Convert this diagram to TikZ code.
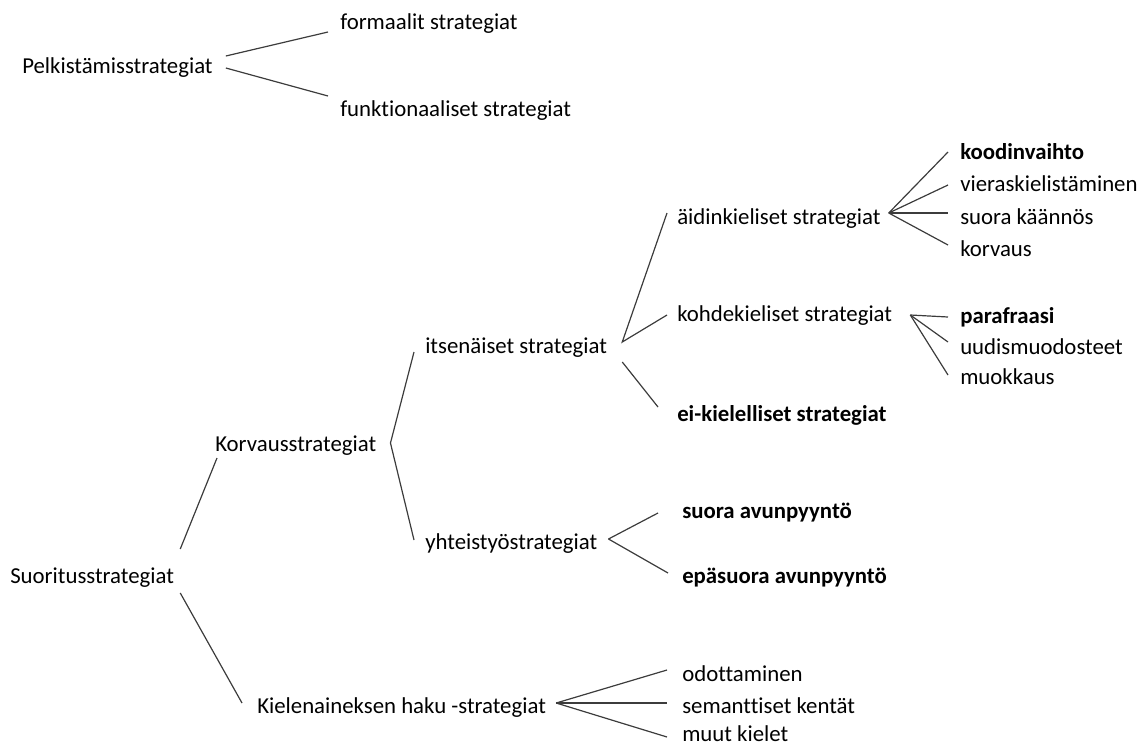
\documentclass[tikz,border=0pt]{standalone}
\usepackage{fontspec}
\setmainfont{Carlito}[Ligatures={NoCommon}]
\usepackage{xcolor}
\usetikzlibrary{calc}

\tikzset{
  txt/.style={anchor=west, inner sep=0pt, text height=13.7pt, text depth=3.4pt, font=\fontsize{17.1pt}{20pt}\selectfont},
  txtb/.style={txt, font=\fontsize{17.1pt}{20pt}\selectfont\bfseries},
  ln/.style={draw={rgb, 255:red, 60; green, 60; blue, 60 }, line width=0.9pt}
}

\begin{document}
\begin{tikzpicture}[x=0.75pt,y=0.75pt,yscale=-1,xscale=1]
\useasboundingbox (0,0) rectangle (1143,747);

% Text Node
\node [txt] (pelk) at (22,67) {Pelkistämisstrategiat};
% Text Node
\node [txt] (form) at (340,23) {formaalit strategiat};
% Text Node
\node [txt] (funk) at (340,110) {funktionaaliset strategiat};

% Text Node
\node [txt] (suor) at (10,577) {Suoritusstrategiat};
% Text Node
\node [txt] (korv) at (215,445) {Korvausstrategiat};
% Text Node
\node [txt] (kiel) at (257,707) {Kielenaineksen haku -strategiat};
% Text Node
\node [txt] (itse) at (425,347) {itsenäiset strategiat};
% Text Node
\node [txt] (yhte) at (425,543) {yhteistyöstrategiat};
% Text Node
\node [txt] (aidi) at (677,218) {äidinkieliset strategiat};
% Text Node
\node [txt] (kohd) at (677,315) {kohdekieliset strategiat};
% Text Node
\node [txtb] (eikl) at (677,415) {ei-kielelliset strategiat};
% Text Node
\node [txtb] (suav) at (682,512) {suora avunpyyntö};
% Text Node
\node [txtb] (epav) at (682,577) {epäsuora avunpyyntö};
% Text Node
\node [txt] (odot) at (682,675) {odottaminen};
% Text Node
\node [txt] (sema) at (682,707) {semanttiset kentät};
% Text Node
\node [txt] (muut) at (682,735) {muut kielet};
% Text Node
\node [txtb] (kood) at (960,153) {koodinvaihto};
% Text Node
\node [txt] (vier) at (960,185) {vieraskielistäminen};
% Text Node
\node [txt] (suka) at (960,218) {suora käännös};
% Text Node
\node [txt] (kor2) at (960,250) {korvaus};
% Text Node
\node [txtb] (para) at (960,317) {parafraasi};
% Text Node
\node [txt] (uudi) at (960,348) {uudismuodosteet};
% Text Node
\node [txt] (muok) at (960,378) {muokkaus};

%Fan points
\coordinate (aidi-v) at ($(aidi.east)+(8,-5)$);
\coordinate (kohd-v) at ($(kohd.east)+(18,0)$);
\coordinate (itse-v) at ($(itse.east)+(15,-5)$);
\coordinate (yhte-v) at ($(yhte.east)+(11,-4)$);
\coordinate (kiel-v) at ($(kiel.east)+(10,-4)$);
\coordinate (korv-v) at ($(korv.east)+(14,-2)$);

%Straight Lines
\draw [ln] ($(pelk.east)+(13,-11)$) -- ($(form.west)+(-12,9)$);
\draw [ln] ($(pelk.east)+(13,1)$) -- ($(funk.west)+(-12,-14)$);
%Straight Lines
\draw [ln] ($(suor.east)+(6,-28)$) -- ($(korv.west)+(2,13)$);
\draw [ln] ($(suor.east)+(6,16)$) -- ($(kiel.west)+(-15,-4)$);
%Straight Lines
\draw [ln] ($(itse.west)+(-11,5)$) -- (korv-v) -- ($(yhte.west)+(-11,-3)$);
%Straight Lines
\draw [ln] ($(aidi.west)+(-10,-5)$) -- (itse-v) -- ($(kohd.west)+(-10,0)$);
\draw [ln] ($(itse.east)+(15,15)$) -- ($(eikl.west)+(-19,-8)$);
%Straight Lines
\draw [ln] (aidi-v) -- ($(kood.west)+(-12,-1)$);
\draw [ln] (aidi-v) -- ($(vier.west)+(-12,0)$);
\draw [ln] (aidi-v) -- ($(suka.west)+(-12,-5)$);
\draw [ln] (aidi-v) -- ($(kor2.west)+(-12,-5)$);
%Straight Lines
\draw [ln] (kohd-v) -- ($(para.west)+(-12,0)$);
\draw [ln] (kohd-v) -- ($(uudi.west)+(-12,-6)$);
\draw [ln] (kohd-v) -- ($(muok.west)+(-12,-3)$);
%Straight Lines
\draw [ln] (yhte-v) -- ($(suav.west)+(-24,1)$);
\draw [ln] (yhte-v) -- ($(epav.west)+(-14,-4)$);
%Straight Lines
\draw [ln] (kiel-v) -- ($(odot.west)+(-15,-5)$);
\draw [ln] (kiel-v) -- ($(sema.west)+(-15,-4)$);
\draw [ln] (kiel-v) -- ($(muut.west)+(-15,2)$);

\end{tikzpicture}
\end{document}
